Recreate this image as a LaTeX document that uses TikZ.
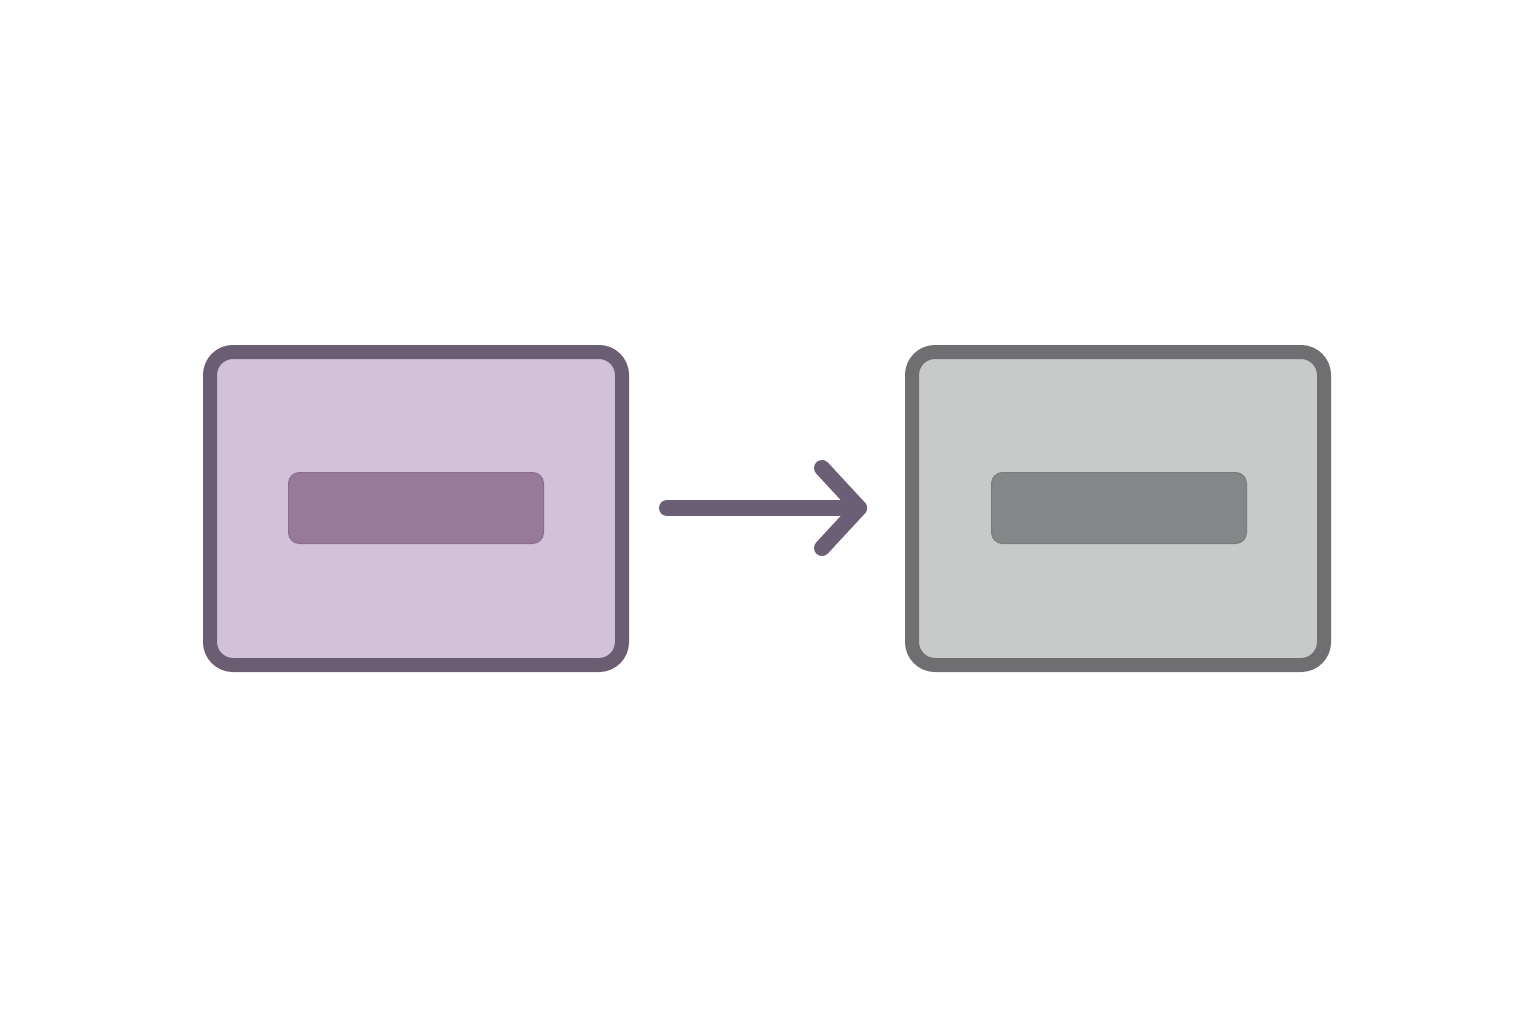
\documentclass[tikz,border=0pt]{standalone}
\begin{document}
\begin{tikzpicture}[x=1pt,y=-1pt,
  outerbox/.style={line width=14pt,rounded corners=23pt},
  bar/.style={line width=1pt,rounded corners=11pt},
  arrowline/.style={line cap=round,line join=round,draw=arrowc}]
\definecolor{purpfill}{HTML}{D3C1D9}
\definecolor{purpedge}{HTML}{6B5D72}
\definecolor{purpbar}{HTML}{977A98}
\definecolor{purpbaredge}{HTML}{8A6E8C}
\definecolor{grayfill}{HTML}{C8C9C9}
\definecolor{grayedge}{HTML}{6F6F71}
\definecolor{graybar}{HTML}{858687}
\definecolor{graybaredge}{HTML}{7A7B7C}
\definecolor{arrowc}{HTML}{6A5F74}
\useasboundingbox[fill=white] (0,0) rectangle (1536,1024);
% left box
\draw[outerbox,draw=purpedge,fill=purpfill] (210,352) rectangle (622,665);
\node[draw=purpbaredge,fill=purpbar,bar,minimum width=255pt,minimum height=71pt,inner sep=0pt] (lb) at (416,508) {};
% right box
\draw[outerbox,draw=grayedge,fill=grayfill] (912,352) rectangle (1324,665);
\node[draw=graybaredge,fill=graybar,bar,minimum width=255pt,minimum height=71pt,inner sep=0pt] (rb) at (1119,508) {};
% arrow
\coordinate (a1) at (667,508);
\coordinate (a2) at (859,508);
\coordinate (h1) at (822,468);
\coordinate (h2) at (822,548);
\draw[arrowline,line width=16pt] (a1) -- (a2);
\draw[arrowline,line width=16pt] (h1) -- (a2) -- (h2);
\end{tikzpicture}
\end{document}
